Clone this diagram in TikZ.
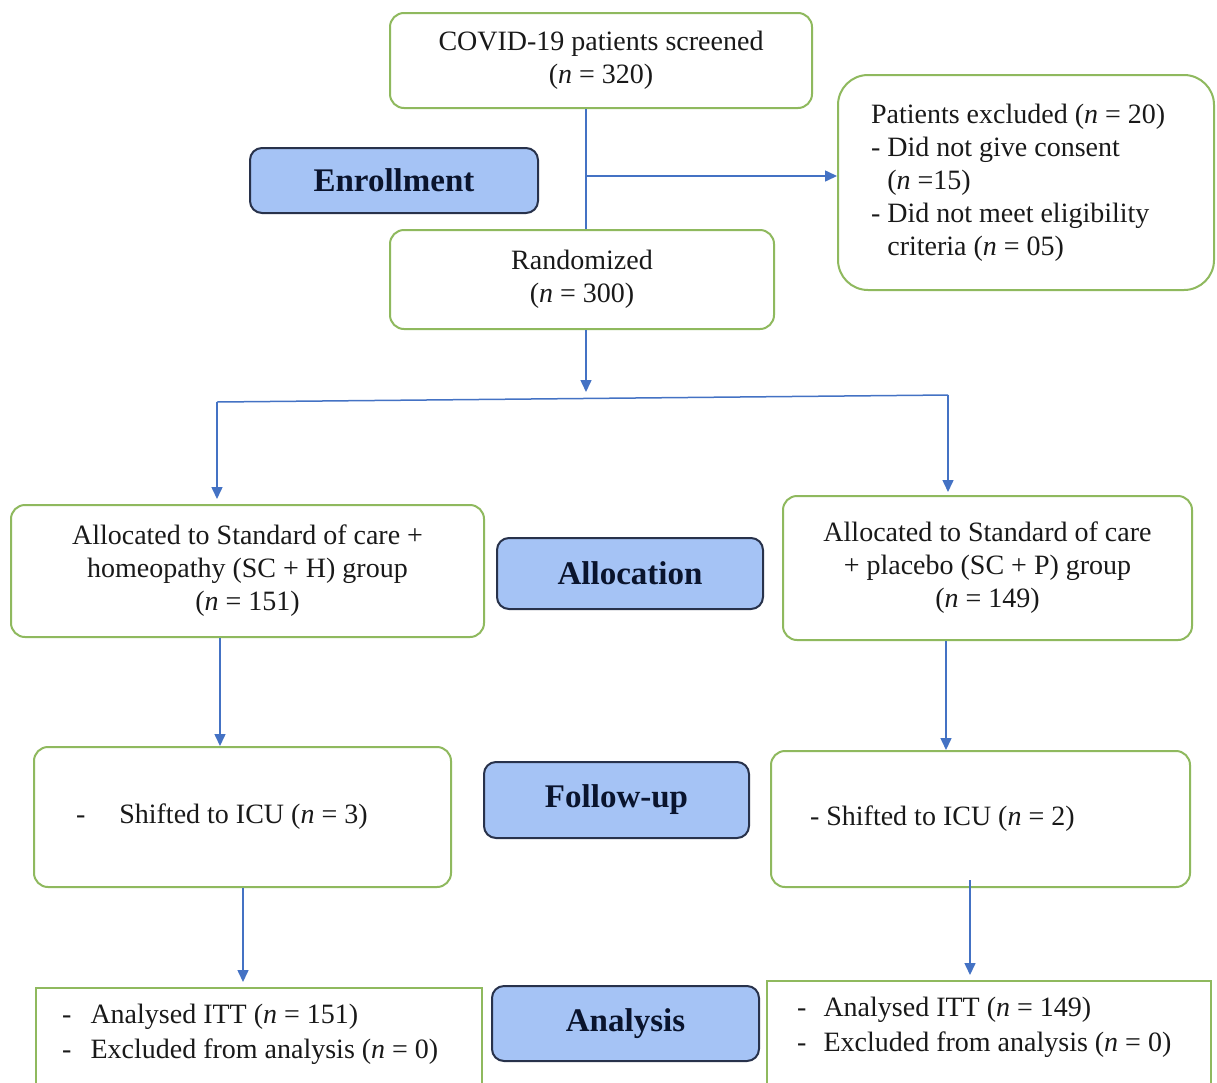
\documentclass[tikz,border=0pt]{standalone}
\usepackage{fontspec}
\setmainfont{Liberation Serif}
\usetikzlibrary{arrows.meta}
\definecolor{boxgreen}{RGB}{143,185,94}
\definecolor{lblfill}{RGB}{165,195,245}
\definecolor{lblborder}{RGB}{40,50,75}
\definecolor{arrowblue}{RGB}{68,114,196}
\definecolor{txtcol}{RGB}{25,25,25}
\definecolor{lbltxt}{RGB}{10,20,45}
\tikzset{
  gbox/.style={draw=boxgreen, line width=2pt, rounded corners=14pt, fill=white, inner sep=0pt,
    align=center, font=\fontsize{28}{33}\selectfont, text=txtcol},
  sqbox/.style={draw=boxgreen, line width=2pt, inner sep=0pt, fill=white},
  lbl/.style={draw=lblborder, fill=lblfill, line width=2pt, rounded corners=12pt, inner sep=0pt,
    font=\bfseries\fontsize{33}{38}\selectfont, text=lbltxt},
  txt/.style={inner sep=0pt, align=flush left, font=\fontsize{28}{35}\selectfont, text=txtcol},
  conn/.style={draw=arrowblue, line width=1.5pt},
  arr/.style={conn, -{Triangle[length=12pt,width=11pt]}}
}
\begin{document}
\begin{tikzpicture}[x=1pt,y=-1pt]
\useasboundingbox (0,0) rectangle (1217,1082);
\clip (0,0) rectangle (1217,1082);
\fill[white] (0,0) rectangle (1217,1082);

% nodes
\node[gbox, minimum width=422, minimum height=95] (scr) at (601,60.5)
  {\raisebox{-3pt}{COVID-19 patients screened}\\\raisebox{-3pt}{(\textit{n} = 320)}};
\node[lbl, minimum width=288, minimum height=65] (enr) at (394,180.5) {Enrollment};
\node[gbox, rounded corners=30pt, minimum width=376, minimum height=215, text width=310, align=flush left] (exc) at (1026,182.5)
  {Patients excluded (\textit{n} = 20)\\- Did not give consent\\\phantom{- }(\textit{n} =15)\\- Did not meet eligibility\\\phantom{- }criteria (\textit{n} = 05)};
\node[gbox, minimum width=384, minimum height=99] (rnd) at (582,279.5)
  {\raisebox{-2pt}{Randomized}\\\raisebox{-2pt}{(\textit{n} = 300)}};

\node[gbox, minimum width=473, minimum height=132] (alL) at (247.5,571)
  {Allocated to Standard of care +\\homeopathy (SC + H) group\\(\textit{n} = 151)};
\node[lbl, minimum width=266, minimum height=71] (alc) at (630,573.5) {Allocation};
\node[gbox, minimum width=409, minimum height=144] (alR) at (987.5,568)
  {Allocated to Standard of care\\+ placebo (SC + P) group\\(\textit{n} = 149)};

\node[gbox, minimum width=417, minimum height=140, text width=333, align=flush left] (fuL) at (242.5,817)
  {-\hspace{34pt}Shifted to ICU (\textit{n} = 3)};
\node[lbl, minimum width=265, minimum height=76] (fup) at (616.5,800) {Follow-up};
\node[gbox, minimum width=419, minimum height=136, text width=341, align=flush left] (fuR) at (980.5,819)
  {- Shifted to ICU (\textit{n} = 2)};

\node[sqbox, minimum width=446, minimum height=140, anchor=north west] (anL) at (35,987) {};
\node[txt, anchor=north west] (anLt) at (62,1004)
  {-\hspace{19pt}Analysed ITT (\textit{n} = 151)\\-\hspace{19pt}Excluded from analysis (\textit{n} = 0)};
\node[lbl, minimum width=267, minimum height=75] (ana) at (625.5,1023.5) {Analysis};
\node[sqbox, minimum width=444, minimum height=140, anchor=north west] (anR) at (766,980) {};
\node[txt, anchor=north west] (anRt) at (797,997)
  {-\hspace{17pt}Analysed ITT (\textit{n} = 149)\\-\hspace{17pt}Excluded from analysis (\textit{n} = 0)};

% connectors
\coordinate (trunk) at (586,0);
\coordinate (split) at (586,176);
\coordinate (tipR) at (586,392);
\coordinate (barL) at (217,402);
\coordinate (barR) at (948,395);
\draw[conn] (scr.south -| trunk) -- (rnd.north -| trunk);
\draw[arr] (split) -- (split -| exc.west);
\draw[arr] (rnd.south -| trunk) -- (tipR);
\draw[conn] (barL) -- (barR);
\draw[arr, shorten >=5pt] (barL) -- (barL |- alL.north);
\draw[arr, shorten >=3pt] (barR) -- (barR |- alR.north);
\draw[arr] (alL.south -| 220,0) -- (fuL.north -| 220,0);
\draw[arr] (alR.south -| 946,0) -- (fuR.north -| 946,0);
\draw[arr, shorten >=5pt] (fuL.south -| 243,0) -- (anL.north -| 243,0);
\draw[arr, shorten >=5pt] (970,880) -- (anR.north -| 970,0);
\end{tikzpicture}
\end{document}
